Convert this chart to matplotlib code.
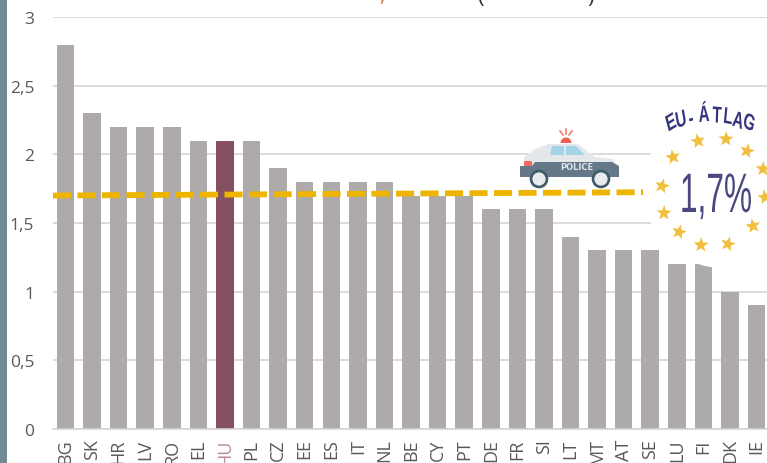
import matplotlib
matplotlib.use('Agg')
import matplotlib.pyplot as plt
from matplotlib.patches import Circle, Rectangle, Polygon, Wedge
from matplotlib.patheffects import AbstractPathEffect
from matplotlib.transforms import Affine2D
import numpy as np

countries = ['BG','SK','HR','LV','RO','EL','HU','PL','CZ','EE','ES','IT','NL','BE','CY','PT','DE','FR','SI','LT','MT','AT','SE','LU','FI','DK','IE']
values = [2.8,2.3,2.2,2.2,2.2,2.1,2.1,2.1,1.9,1.8,1.8,1.8,1.8,1.7,1.7,1.7,1.6,1.6,1.6,1.4,1.3,1.3,1.3,1.2,1.2,1.0,0.9]
eu_avg = [1.7, 1.724]
yticks = [0,0.5,1,1.5,2,2.5,3]
yticklabels = ['0','0,5','1','1,5','2','2,5','3']
highlight = 'HU'

W, H = 767, 464
plt.rcParams['font.family'] = ['Open Sans', 'DejaVu Sans']
fig = plt.figure(figsize=(W/100, H/100), dpi=100, facecolor='white')


class Squeeze(AbstractPathEffect):
    """Narrow a text horizontally around a display-pixel x position."""
    def __init__(self, cx, sx):
        super().__init__()
        self.cx, self.sx = cx, sx

    def draw_path(self, renderer, gc, tpath, affine, rgbFace=None):
        t = affine + Affine2D().translate(-self.cx, 0).scale(self.sx, 1).translate(self.cx, 0)
        renderer.draw_path(gc, tpath, t, rgbFace)


left, right, bottom, top = 53, 767, 429.7, 18.2
ax = fig.add_axes([left/W, 1-bottom/H, (right-left)/W, (bottom-top)/H])
step = 26.58
x0 = (left-65.5)/step
x1 = (right-65.5)/step
ax.set_xlim(x0, x1)
ax.set_ylim(0, 3)
x = np.arange(len(countries))
colors = ['#85505F' if c == highlight else '#AEAAAA' for c in countries]
ax.bar(x, values, width=0.66, color=colors, zorder=2)
ax.yaxis.grid(True, color='#D4D4D4', lw=1.2, zorder=1)
ax.set_axisbelow(True)
for s in ['top','right','left']:
    ax.spines[s].set_visible(False)
ax.spines['bottom'].set_color('#D4D4D4')
ax.spines['bottom'].set_linewidth(1.2)
ax.set_yticks(yticks)
ax.set_yticklabels(yticklabels, fontsize=12.5, color='#595959')
ax.tick_params(axis='y', length=0, pad=13.5)
ax.set_xticks(x)
ax.set_xticklabels(countries, rotation=90, fontsize=13, color='#595959', va='top')
ax.tick_params(axis='x', length=0, pad=7)
for lbl, c in zip(ax.get_xticklabels(), countries):
    if c == highlight:
        lbl.set_color('#B98A99')

# EU-average dashed line, ends under the badge
ax.plot([x0, (644-65.5)/step], eu_avg, color='#EDB500', lw=4.2, dashes=(3.1, 1.1),
        dash_capstyle='butt', zorder=3)

ov = fig.add_axes([0, 0, 1, 1], zorder=5)
ov.set_xlim(0, W); ov.set_ylim(H, 0); ov.axis('off'); ov.patch.set_alpha(0)
ov.add_patch(Rectangle((0, 0), 7, H, color='#6F8A92', lw=0))

# remnants of the cropped heading
ov.text(382, -3, ',', fontsize=14, color='#D9702A', ha='center', va='center', clip_on=False)
ov.text(480, -3, '(', fontsize=16, color='#333333', ha='center', va='center', clip_on=False)
ov.text(591, -3, ')', fontsize=16, color='#333333', ha='center', va='center', clip_on=False)

# badge
ov.add_patch(Circle((723, 189), 80, color='white', lw=0, zorder=1))


def star(px, py, r=7.8, rot=0.0):
    a = np.deg2rad(np.arange(10)*36 - 90 + rot)
    rad = np.where(np.arange(10) % 2 == 0, r, r*0.42)
    ov.add_patch(Polygon(np.c_[px+rad*np.cos(a), py+rad*np.sin(a)], color='#F2BE3E', lw=0, zorder=2))


stars = [(698,142),(726,140),(747,152),(673,158),(763,170),(662,187),(765,198),(664,214),(679,233),(753,227),(701,246),(728,245)]
for i, (sx, sy) in enumerate(stars):
    star(sx, sy, rot=12*(i % 3) - 10)

ptxt = ov.text(752, 213, '1,7%', fontsize=40, color='#49497F', ha='right', va='baseline',
               family='Liberation Sans', zorder=3)
ptxt.set_path_effects([Squeeze(752, 0.57)])
letters = 'EU-ÁTLAG'
lx = [671,681,691,704,717,728,738,749]
ly = [124,121,120,116,117,118,122,124]
lr = [22,15,8,4,-3,-8,-14,-20]
for ch, a, b, r in zip(letters, lx, ly, lr):
    t = ov.text(a, b, ch, fontsize=16.5, color='#36367F', ha='center', va='center', fontweight='bold',
                rotation=r, family='Liberation Sans', zorder=3)
    t.set_path_effects([Squeeze(a, 0.66)])

# police car
ov.add_patch(Polygon([(524,168),(524,158),(535,150),(548,145),(578,145),(595,158),(613,160),(618,168)],
                     color='#E4E8EA', lw=0, zorder=2))
ov.add_patch(Polygon([(520,167),(532,167),(535,163),(612,163),(619,167),(619,178),(520,178)],
                     color='#64788A', lw=0, zorder=3))
ov.add_patch(Polygon([(552,147),(564,147),(564,156),(550,156)], color='#A3D3E6', lw=0, zorder=3))
ov.add_patch(Polygon([(566,147),(576,147),(585,156),(566,156)], color='#A3D3E6', lw=0, zorder=3))
ov.add_patch(Rectangle((524, 162), 8, 5, color='#EF6A5F', lw=0, zorder=4))
ov.add_patch(Wedge((566, 144), 5.5, 180, 360, color='#EF5F55', lw=0, zorder=3))
ov.plot([566,566],[130,135], color='#EF7F75', lw=1.2, zorder=3)
ov.plot([560,563],[132,136], color='#EF7F75', lw=1.2, zorder=3)
ov.plot([572,569],[132,136], color='#EF7F75', lw=1.2, zorder=3)
ov.text(577, 168, 'POLICE', fontsize=6.0, color='#DDE3E8', ha='center', va='center',
        fontweight='bold', zorder=4, family='DejaVu Sans')
for wx in [539, 601]:
    ov.add_patch(Circle((wx, 180), 9.3, color='#3F5A68', lw=0, zorder=4))
    ov.add_patch(Circle((wx, 180), 6.6, color='#E8ECEE', lw=0, zorder=5))

fig.savefig('out.png', dpi=100)
